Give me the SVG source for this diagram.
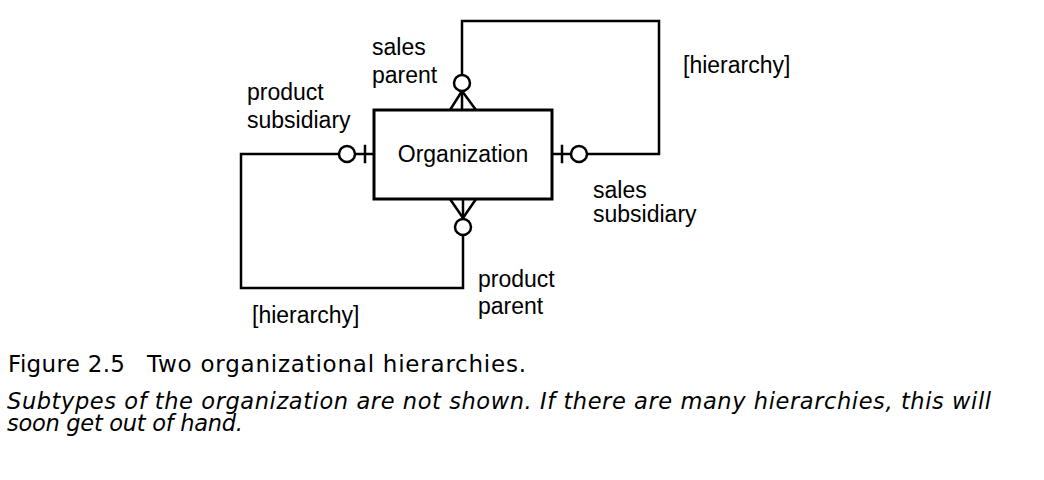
<svg xmlns="http://www.w3.org/2000/svg" width="1044" height="480" viewBox="0 0 1044 480">
<style>
  .ln { fill: none; stroke: #000; stroke-width: 2.5; stroke-linecap: square; }
  .circ { fill: #fff; stroke: #000; stroke-width: 2.5; }
  .box { fill: #fff; stroke: #000; stroke-width: 3; }
  .lbl { font-family: "Liberation Sans", Arial, sans-serif; font-size: 23px; fill: #000; }
  .cap { font-family: "DejaVu Sans", "Open Sans", sans-serif; font-size: 23px; fill: #000; }
  .capi { font-family: "DejaVu Sans", "Open Sans", sans-serif; font-size: 22.5px; font-style: italic; fill: #000; }
</style>
<rect width="1044" height="480" fill="#fff"/>
<g id="connectors">
  <!-- sales hierarchy loop (top/right) -->
  <polyline class="ln" points="462,75 462,21 659,21 659,154 587,154"/>
  <line class="ln" x1="552" y1="154" x2="571" y2="154"/>
  <line class="ln" x1="562" y1="146" x2="562" y2="162"/>
  <circle class="circ" cx="579" cy="154" r="8"/>
  <polyline class="ln" points="450,110 462,91 476,110"/>
  <line class="ln" x1="462" y1="91" x2="462" y2="110"/>
  <circle class="circ" cx="462" cy="83" r="8"/>
  <!-- product hierarchy loop (left/bottom) -->
  <polyline class="ln" points="339,154 241,154 241,288 463,288 463,235"/>
  <line class="ln" x1="355" y1="154" x2="374" y2="154"/>
  <line class="ln" x1="365" y1="146" x2="365" y2="162"/>
  <circle class="circ" cx="347" cy="154" r="8"/>
  <polyline class="ln" points="450,199 463,218 476,199"/>
  <line class="ln" x1="463" y1="199" x2="463" y2="218"/>
  <circle class="circ" cx="463" cy="227" r="8"/>
</g>
<g id="organization">
  <rect class="box" x="374" y="110" width="178" height="89"/>
  <text class="lbl" x="463" y="162" text-anchor="middle" font-size="24">Organization</text>
</g>
<g id="labels">
  <text class="lbl" x="372" y="55">sales</text>
  <text class="lbl" x="372" y="83">parent</text>
  <text class="lbl" x="247" y="100">product</text>
  <text class="lbl" x="247" y="128">subsidiary</text>
  <text class="lbl" x="683" y="73">[hierarchy]</text>
  <text class="lbl" x="593" y="198">sales</text>
  <text class="lbl" x="593" y="222">subsidiary</text>
  <text class="lbl" x="478" y="287">product</text>
  <text class="lbl" x="478" y="314">parent</text>
  <text class="lbl" x="252" y="323">[hierarchy]</text>
</g>
<g id="caption">
  <text class="cap" x="8" y="372" textLength="117">Figure 2.5</text>
  <text class="cap" x="147" y="372" textLength="379">Two organizational hierarchies.</text>
  <text class="capi" x="7" y="409" textLength="984">Subtypes of the organization are not shown. If there are many hierarchies, this will</text>
  <text class="capi" x="7" y="431" textLength="236">soon get out of hand.</text>
</g>
</svg>
